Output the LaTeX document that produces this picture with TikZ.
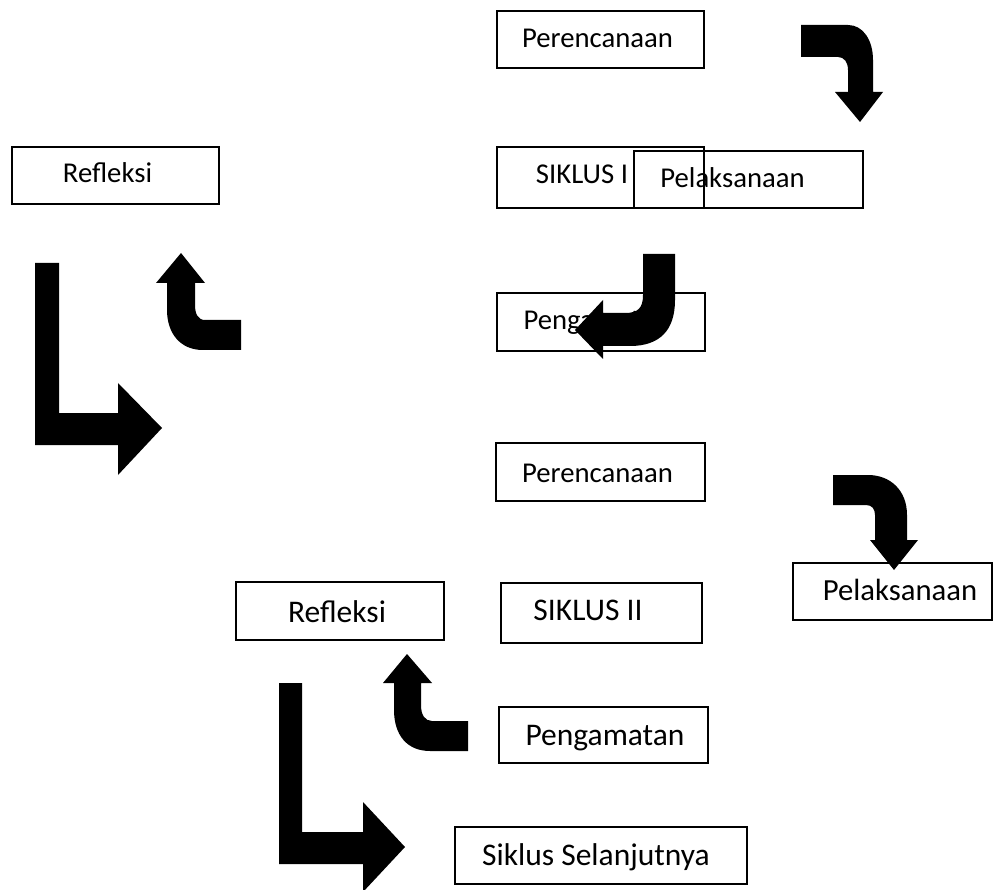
\documentclass[tikz,border=0pt]{standalone}
\usepackage{fontspec}
\setmainfont{Carlito}
\begin{document}
\begin{tikzpicture}[x=1pt,y=-1pt,
  box/.style={draw=black,line width=1.6pt,inner sep=0pt,fill=none},
  lbl/.style={anchor=base,inner sep=0pt,font=\fontsize{28.7}{34}\selectfont},
  lblb/.style={anchor=base,inner sep=0pt,font=\fontsize{31.5}{37}\selectfont},
  lblc/.style={anchor=base,inner sep=0pt,font=\fontsize{30.7}{36}\selectfont},
  blk/.style={fill=black,draw=none}]
\useasboundingbox (0,0) rectangle (993,890);
\clip (0,0) rectangle (993,890);
% boxes, cycle I
\node[box,minimum width=207pt,minimum height=57pt] (per1) at (600.5,39.5) {};
\node[box,minimum width=207pt,minimum height=61pt] (sik1) at (600.5,177.5) {};
\node[box,minimum width=229pt,minimum height=57pt] (pel1) at (748.5,179.5) {};
\node[box,minimum width=207pt,minimum height=57pt] (ref1) at (115.5,175.5) {};
\node[box,minimum width=208pt,minimum height=58pt] (pen1) at (601,322) {};
% boxes, cycle II
\node[box,minimum width=209pt,minimum height=58pt] (per2) at (600.5,472) {};
\node[box,minimum width=201pt,minimum height=60pt] (sik2) at (601.5,613) {};
\node[box,minimum width=199pt,minimum height=57pt] (pel2) at (892.5,591.5) {};
\node[box,minimum width=208pt,minimum height=58pt] (ref2) at (340,611) {};
\node[box,minimum width=209pt,minimum height=56pt] (pen2) at (603.5,735) {};
\node[box,minimum width=292pt,minimum height=57pt] (next) at (601,855.5) {};
% labels
\node[lbl] (per1t) at (597.5,48) {Perencanaan};
\node[lbl] (sik1t) at (582,184) {SIKLUS I};
\node[lbl] (pel1t) at (732.5,188) {Pelaksanaan};
\node[lbl] (ref1t) at (107.5,183) {Refleksi};
\node[lbl] (pen1t) at (596,330) {Pengamatan};
\node[lbl] (per2t) at (597.5,482) {Perencanaan};
\node[lblb] (sik2t) at (588,620) {SIKLUS II};
\node[lblc] (pel2t) at (900,600) {Pelaksanaan};
\node[lblb] (ref2t) at (337,622) {Refleksi};
\node[lblb] (pen2t) at (605,745) {Pengamatan};
\node[lblb] (nextt) at (596,865) {Siklus Selanjutnya};
% block arrows, cycle I
\fill[blk] (801,25) -- (848,25) .. controls (863,25) and (873,40) .. (873,60)
  -- (873,92) -- (883,92) -- (860,122) -- (835,92) -- (848,92) -- (848,70)
  .. controls (848,62) and (844,57) .. (838,57) -- (801,57) -- cycle;
\fill[blk] (643,254) -- (675,254) -- (675,300) .. controls (675,330) and (660,346) .. (630,346)
  -- (603,346) -- (603,359) -- (575,330) -- (603,300) -- (603,313) -- (625,313)
  .. controls (638,313) and (643,308) .. (643,295) -- cycle;
\fill[blk] (241,320) -- (205,320) .. controls (198,320) and (195,314) .. (195,305)
  -- (195,283) -- (205,283) -- (181,253) -- (156,283) -- (167,283) -- (167,310)
  .. controls (167,333) and (180,350) .. (203,350) -- (241,350) -- cycle;
\fill[blk] (35,263) -- (59,263) -- (59,413) -- (118,413) -- (118,383) -- (162,428)
  -- (118,475) -- (118,445) -- (35,445) -- cycle;
% block arrows, cycle II
\fill[blk] (833,475) -- (868,475) .. controls (890,475) and (907,490) .. (907,515)
  -- (907,540) -- (918,540) -- (894,570) -- (870,540) -- (875,540) -- (875,515)
  .. controls (875,509) and (872,505) .. (866,505) -- (833,505) -- cycle;
\fill[blk] (468,721) -- (432,721) .. controls (425,721) and (421,715) .. (421,705)
  -- (421,683) -- (432,683) -- (407,654) -- (383,683) -- (394,683) -- (394,710)
  .. controls (394,735) and (407,751) .. (430,751) -- (468,751) -- cycle;
\fill[blk] (279,683) -- (302,683) -- (302,832) -- (363,832) -- (363,802) -- (405,847)
  -- (363,892) -- (363,864) -- (279,864) -- cycle;
\end{tikzpicture}
\end{document}
